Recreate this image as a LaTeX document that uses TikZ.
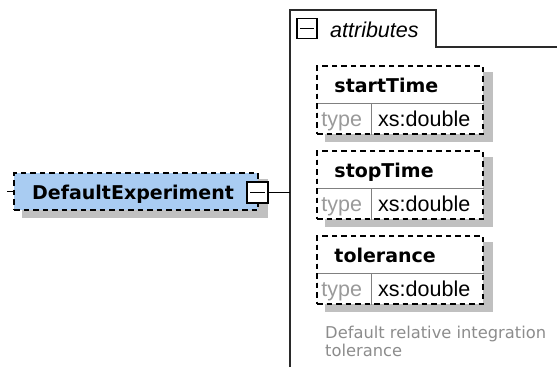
\documentclass[tikz,border=0pt]{standalone}
\usepackage{fontspec}
\setmainfont{Liberation Sans}
\newfontfamily\djv{DejaVu Sans}
\usetikzlibrary{calc,backgrounds}
\definecolor{boxblue}{HTML}{A9CCF2}
\definecolor{shadowgray}{HTML}{C0C0C0}
\definecolor{linegray}{HTML}{2A2A2A}
\definecolor{descgray}{HTML}{8C8C8C}
\definecolor{typegray}{HTML}{9A9A9A}
\definecolor{cellgray}{HTML}{808080}
\tikzset{
  dashbox/.style={draw=black, line width=1.5pt, dash pattern=on 5.5pt off 4pt},
  mainbox/.style={dashbox, fill=boxblue, minimum width=244pt, minimum height=37pt, inner sep=0pt},
  attrbox/.style={dashbox, fill=white, minimum width=166pt, minimum height=68pt, inner sep=0pt},
  btn/.style={draw=black, line width=1.3pt, fill=white, minimum size=20pt, inner sep=0pt},
  minusline/.style={line width=1.3pt, draw=black},
  conn/.style={line width=1.6pt, draw=black},
  groupline/.style={line width=1.6pt, draw=linegray},
  cellline/.style={line width=0.9pt, draw=cellgray},
  shadowfill/.style={fill=shadowgray},
  namefont/.style={font=\djv\bfseries\fontsize{19}{22}\selectfont, inner sep=0pt},
  typefont/.style={font=\fontsize{21.5}{24}\selectfont, text=typegray, inner sep=0pt},
  valfont/.style={font=\fontsize{21.5}{24}\selectfont, text=black, inner sep=0pt},
  groupfont/.style={font=\itshape\fontsize{21.5}{24}\selectfont, inner sep=0pt},
  descfont/.style={font=\djv\fontsize{16.3}{19}\selectfont, text=descgray, inner sep=0pt},
}
\newcommand\attrblock[3]{%
  \node[attrbox] (#1) at (400,#2) {};
  \begin{pgfonlayer}{background}
    \fill[shadowfill] ([shift={(9pt,-7pt)}]#1.north west) rectangle ([shift={(9pt,-7pt)}]#1.south east);
  \end{pgfonlayer}
  \node[namefont, anchor=base west] (#1name) at ($(#1.north west)+(18,27)$) {#3};
  \coordinate (#1div) at ($(#1.north west)+(0,38)$);
  \draw[cellline] (#1div) -- (#1div -| #1.east);
  \coordinate (#1vdiv) at ($(#1div)+(55,0)$);
  \draw[cellline] (#1vdiv) -- (#1vdiv |- #1.south);
  \node[typefont, anchor=base] (#1type) at ($(#1div)+(25.5,23)$) {type};
  \node[valfont, anchor=base] (#1val) at ($(#1div)+(108,23)$) {xs:double};
  \node[attrbox, fill=none] (#1frame) at (#1) {};
}
\begin{document}
\begin{tikzpicture}[x=1pt, y=-1pt]
  \useasboundingbox (0,0) rectangle (557,367);
  % group frame
  \coordinate (gtop) at (290,10);
  \coordinate (gbot) at (290,367);
  \coordinate (tabtr) at (436,10);
  \coordinate (tabbr) at (436,47);
  \coordinate (gright) at (557,47);
  \draw[groupline] (gbot) -- (gtop) -- (tabtr) -- (tabbr) -- (gright);
  \node[btn] (abtn) at (307,28.5) {};
  \draw[minusline] ([xshift=4pt]abtn.west) -- ([xshift=-4pt]abtn.east);
  \node[groupfont, anchor=base west] (agroup) at (330,37) {attributes};

  % main element
  \node[mainbox] (de) at (136,191.5) {};
  \begin{pgfonlayer}{background}
    \fill[shadowfill] ([shift={(9pt,-7pt)}]de.north west) rectangle ([shift={(9pt,-7pt)}]de.south east);
  \end{pgfonlayer}
  \node[namefont, anchor=base west] (detext) at (32,199) {DefaultExperiment};
  \coordinate (stub) at (7,191.5);
  \draw[conn] (stub) -- (de.west);
  \node[btn, minimum size=21pt] (debtn) at (257.5,192.5) {};
  \draw[minusline] ([xshift=4pt]debtn.west) -- ([xshift=-4pt]debtn.east);
  \draw[conn] (debtn.east) -- (debtn.east -| gtop);

  % attributes
  \attrblock{st}{100}{startTime}
  \attrblock{sp}{185}{stopTime}
  \attrblock{tl}{270}{tolerance}

  \node[descfont, anchor=base west] (desc1) at (325,338) {Default relative integration};
  \node[descfont, anchor=base west] (desc2) at (325,356) {tolerance};
\end{tikzpicture}
\end{document}
